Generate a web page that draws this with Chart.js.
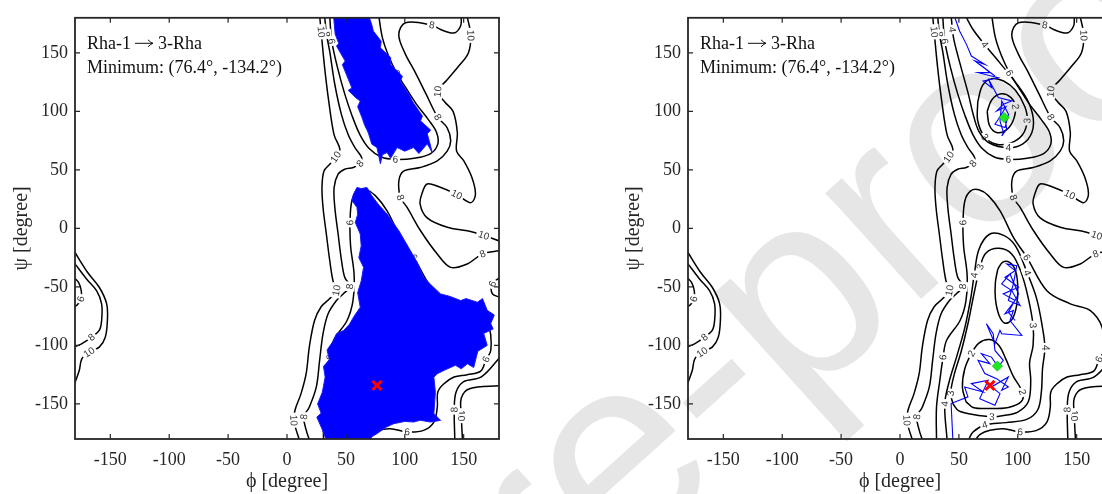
<!DOCTYPE html>
<html>
<head>
<meta charset="utf-8">
<script src="https://cdn.jsdelivr.net/npm/chart.js@4.4.1/dist/chart.umd.min.js"></script>
<style>
  html, body { margin: 0; padding: 0; background: #fff; width: 1102px; height: 494px; overflow: hidden; }
  canvas { position: absolute; top: 0; }
</style>
</head>
<body>
<canvas id="mark" width="1102" height="494" style="left:0"></canvas>
<canvas id="leftMap" width="522" height="494" style="left:0"></canvas>
<canvas id="rightMap" width="522" height="494" style="left:612px"></canvas>
<script>
// Ramachandran-style energy maps (phi / psi in degrees)
const PHI_TICKS = [-150, -100, -50, 0, 50, 100, 150];
const PSI_TICKS = [-150, -100, -50, 0, 50, 100, 150];
const NOTE_LINES = ["Rha-1\u21923-Rha", "Minimum: (76.4\u00b0, -134.2\u00b0)"];
const MINIMUM = [[76.4, -134.2]];
const BASIN_MINIMA = [[88.4, 94.7], [82.7, -117.7]];

// contour polylines, [phi, psi]
const C10_LOBE = [[-181,-19],[-169.4,-37.5],[-159.4,-50.3],[-153.1,-64.5],[-152.5,-78.7],[-154.3,-93],[-159.4,-101.5],[-168,-105.8],[-174.2,-111.5],[-176.4,-121.4],[-181,-134.5]];
const C8_LOBE = [[-181,-29],[-170.2,-43.2],[-161.7,-53.2],[-157.4,-64.5],[-157.4,-78.7],[-159.4,-87.2],[-165.9,-93],[-174.4,-98.7],[-181,-101.5]];
const C6_LOBE = [[-181,-41.8],[-177,-46.1],[-174.7,-53.2],[-175,-60.3],[-177.8,-65.1],[-181,-67.4]];
const C10_WALL = [[27.8,181],[29,168],[32,137],[35.4,109],[40,80],[44.9,67.6],[41.4,61],[36.3,54.8],[31.4,49],[29.7,35],[30.6,17.9],[33.4,-4.8],[36.3,-27.6],[39,-44.6],[42,-53],[36.3,-60],[29,-67],[23.4,-78.7],[19,-101],[16.3,-124],[12,-141],[6.9,-155],[5.7,-164],[7.7,-172],[10.6,-181]];
const C8_WALL = [[32,181],[33.5,166],[36.3,151],[40.6,123],[46.3,97],[52,80],[57.7,69],[63.4,60.5],[62,55.4],[56.3,52],[49,50.6],[43.4,46.3],[40,35],[40.6,18],[43.4,-4.8],[46.3,-27.6],[49,-41.8],[53.4,-49.7],[47.7,-56],[42,-61.6],[34.9,-73],[30.6,-90],[27.7,-112.8],[24.9,-135.5],[19,-152.6],[14.3,-161],[16.3,-172.4],[19.1,-181]];
const C6_TOP = [[36.3,181],[38,160],[43,137],[49,115],[55,97],[62,80],[70,68],[80,61],[92,59],[108,60],[122,64],[128,72],[127,82],[120,93],[110,106],[101,120],[93,133],[86,148],[81,163],[78,181]];
const C6_LOW = [[31,-181],[31,-152.7],[33.8,-130],[36.6,-110],[39.5,-95.8],[51,-78.7],[56,-62],[57,-40],[54,-15],[53.5,5],[55.1,23.6],[60,32],[67,33],[75,28],[85,15],[96.3,-7.7],[107.7,-24.7],[124.7,-53.2],[144.6,-64.5],[161.6,-70.2],[171.6,-84.5],[173,-104.4],[169,-112],[164.5,-122],[153,-125],[141.8,-127],[133,-133],[128,-140],[127.6,-152.7],[124.7,-165.5],[116,-172.6],[102,-174],[87.8,-171.2],[76.4,-172.6],[68,-176],[64,-181]];
const C6_EDGE = [[181,-41.8],[174.4,-47.5],[174.4,-56],[181,-58.9]];
const C8_RIGHT = [[148,181],[147.4,173],[141.8,167],[130.4,170],[123,173.8],[100.6,175.8],[94.9,165.8],[100,150],[108,135],[118,115],[128,95],[136,86],[139,75],[136,66],[127.6,57.7],[113,52],[99,49],[95,40.7],[96.3,26.5],[102,17.9],[113.4,-2],[127.6,-21.9],[139,-33.3],[153,-30.4],[166,-21.9],[181,-19]];
const C10_RIGHT = [[153,181],[156,165],[154,150],[146,139],[136,127],[128,117],[134,108],[141,100],[144.6,82],[144,66],[150,58],[157,43.5],[160,29],[156,22],[144,29],[128,36],[119,38],[115,31],[113,21],[119,9],[136,1],[153,-2],[167,-6],[181,-11]];
const C8_CORNER = [[181,-110],[165,-127],[150,-131],[143.5,-140],[142,-155],[142.5,-181]];
const C10_CORNER = [[181,-134.5],[155,-137],[148,-145],[148,-160],[149,-181]];
const C4_TOP = [[43.5,181],[44.5,170],[46,160],[52,137],[58,115],[62,98],[67,83],[76,73],[92,69],[104,72],[112,82],[113,95],[108,110],[98,125],[86,140],[72,157],[62,170],[56,181]];
const C3_TOP = [[66,108],[70,122],[78,128],[88,126],[98,118],[106,104],[108,92],[104,80],[94,73],[82,72],[72,78],[66,92],[66,108]];
const C2_TOP = [[74,100],[78,110],[86,115],[94,112],[98,104],[96,92],[90,84],[82,82],[76,88],[74,100]];
const C4_LOW = [[40,-181],[38,-150],[42,-130],[48,-110],[55,-85],[60,-60],[63,-40],[67,-18],[76,-5],[88,-6],[98,-15],[108,-38],[116,-60],[121,-85],[123,-102],[121,-120],[120,-140],[117,-155],[108,-163],[90,-166],[72,-168],[62,-174],[58,-181]];
const C3_LOW = [[45,-150],[43,-141],[46,-125],[52,-105],[58,-80],[63,-55],[68,-33],[73,-21],[84,-17],[95,-22],[103,-38],[109,-60],[113,-83],[113,-100],[110,-115],[111,-130],[109,-148],[100,-157],[88,-160],[78,-161],[62,-159],[50,-156],[45,-150]];
const C2_LOW = [[56,-148],[53,-136],[55,-120],[60.6,-107],[67,-98],[76,-95],[84,-100],[90,-112],[96,-126],[104,-140],[103,-148],[92,-153],[75,-154],[62,-153],[56,-148]];
const C2_MID = [[83,-35],[87,-29],[93,-29],[98,-36],[100,-50],[99,-66],[95,-78],[89,-81],[84,-74],[81,-60],[81,-46],[83,-35]];

// level, polyline, indices where the level number is written
const CONTOURS = [
  { level: 10, pts: C10_LOBE, at: [7] },
  { level: 8, pts: C8_LOBE, at: [6] },
  { level: 6, pts: C6_LOBE, at: [3] },
  { level: 10, pts: C10_WALL, at: [1, 6, 14, 22] },
  { level: 8, pts: C8_WALL, at: [1, 8, 17, 25] },
  { level: 6, pts: C6_TOP, at: [1, 8, 16] },
  { level: 6, pts: C6_LOW, at: [3, 9, 16, 22, 31] },
  { level: 6, pts: C6_EDGE, at: [1] },
  { level: 8, pts: C8_RIGHT, at: [4, 10, 18, 24] },
  { level: 10, pts: C10_RIGHT, at: [1, 5, 14, 22] },
  { level: 8, pts: C8_CORNER, at: [4] },
  { level: 10, pts: C10_CORNER, at: [3] },
  { level: 4, pts: C4_TOP, at: [1, 8, 15] },
  { level: 3, pts: C3_TOP, at: [6, 10] },
  { level: 2, pts: C2_TOP, at: [4] },
  { level: 4, pts: C4_LOW, at: [1, 6, 11, 14, 20] },
  { level: 3, pts: C3_LOW, at: [1, 6, 12, 19] },
  { level: 2, pts: C2_LOW, at: [3, 9] },
  { level: 2, pts: C2_MID, at: [] },
];

// sampled conformations, drawn as filled clouds on the left map
const CLOUD_TOP = [[39.5,182],[40.9,166],[44,158],[42,156],[49.4,143],[47,140],[55.1,120],[52,118],[58,112],[62.2,108.8],[60,104],[63.7,94.7],[66,88],[68,84],[69.3,80.8],[72,72],[76.4,69.1],[79.3,55.2],[81,63],[85,64.8],[88,60],[93.5,69.1],[100,66],[107.4,69.1],[112,64],[119.1,72.3],[123.3,64.8],[121,74],[119.1,80.8],[122,84],[113.4,91.9],[115,96],[106.3,108.9],[104,114],[96.3,126],[98,130],[87.8,140.5],[88,146],[79.3,154.4],[80,160],[73.3,168.7],[72,174],[69.3,182],[39.5,182]];
const CLOUD_LOW = [[56.5,29.4],[59.4,35],[63,34],[67.9,35],[72,28],[78,20],[85,12.3],[90,5],[95,-2],[104.8,-19],[110,-28],[116.2,-41.8],[122,-48],[130.4,-56],[138,-58],[147.5,-61.7],[152,-60],[161.7,-63.1],[166,-60],[170,-70],[176,-74],[173,-81.3],[175,-86],[167,-89.8],[170,-100],[162,-105],[158.5,-118.9],[153.2,-115.7],[148,-120],[143,-117],[133.2,-121.4],[128,-124],[124.7,-127.1],[126,-140],[124.7,-158.1],[130.4,-164.1],[121.9,-165.5],[113,-164],[107.6,-165.5],[100,-165],[90.6,-166.9],[84,-170],[76.5,-175.4],[72,-178],[70.7,-182],[33.8,-182],[30,-172],[25.3,-161.3],[29,-158],[26,-150],[30,-140],[32.4,-127.1],[31,-118],[36,-112],[34,-104],[39.5,-95.8],[42,-90],[48,-87.3],[53,-82],[57,-75],[62.2,-67.4],[60,-55],[63,-45],[65,-33.3],[61,-25],[63,-15],[62.2,-4.8],[58,5],[60,12],[59.4,17.9],[55,24],[56.5,29.4]];

// single trajectory on the right map (wraps through psi = +/-180)
const TRAJ_TOP = [[46.3,181],[50.6,168.7],[56.4,157.3],[60.6,147.3],[72,140.2],[63.5,143.1],[80.6,130.3],[67.8,140.2],[76.3,133.1],[66.3,133.1],[83.5,128.8],[70.6,126],[77.8,120.3],[75,128],[83.5,111.8],[94.9,108.9],[87.8,106.1],[82.1,100.4],[90,104],[83.5,93.3],[80.6,89],[89.2,86.2],[92.1,97.6],[86.4,108.9],[84.9,91.9],[87.8,81.9],[86.4,79.1],[90.6,84.8],[89.2,94.7]];
const TRAJ_LOW = [[44.9,-181],[43.4,-149.7],[57.7,-144],[54.9,-135.5],[70.6,-139.8],[60.6,-132.7],[74.9,-129.8],[67.7,-145.5],[80.6,-151.1],[84.9,-141.2],[77.7,-135.5],[92,-127],[86.3,-138.4],[92,-135.5],[82,-128.4],[72,-124.1],[66.3,-112.8],[76.3,-115.6],[69.1,-107.1],[77.7,-110],[83.4,-118.5],[87.7,-112.8],[80.6,-104.3],[79.1,-90],[73.4,-81.5],[80.6,-98.6],[84.9,-87.2],[86.3,-90],[103.4,-91.5],[93.4,-78.7],[96.3,-70.2],[89.1,-73],[97.7,-61.6],[87.7,-56],[100.6,-50.3],[89.1,-41.8],[97.7,-36.1],[90.6,-30.4],[99.1,-31.8],[96.3,-47.4],[92,-61.6],[102,-65.9],[94.9,-53.1],[86.3,-47.4],[93.4,-38.9],[100.6,-56],[92,-71.6],[97.7,-78.7]];

const SERIF = '"Liberation Serif", "Times New Roman", serif';
const AXIS_INK = "#262626";
const TICK_LEN = 5;

const xy = pts => pts.map(([x, y]) => ({ x, y }));

function contourSets(minLevel) {
  return CONTOURS.filter(c => c.level >= minLevel).map(c => ({
    data: xy(c.pts),
    showLine: true,
    borderColor: "#000",
    borderWidth: 1.5,
    pointRadius: 0,
    tension: 0.35,
    order: 5,
    level: c.level,
    labelsAt: c.at,
  }));
}

function minimumMark() {
  return {
    data: xy(MINIMUM), pointStyle: "crossRot", pointRadius: 6.5,
    pointBorderWidth: 3, borderColor: "#ff0000", backgroundColor: "#ff0000", order: 0,
  };
}

// break the contour line under each label and write the level
const contourLabels = {
  id: "contourLabels",
  afterDatasetDraw(chart, args) {
    const ds = chart.data.datasets[args.index];
    if (!ds.labelsAt || !ds.labelsAt.length) return;
    const pts = args.meta.data;
    const { ctx, chartArea: a } = chart;
    ctx.save();
    ctx.beginPath();
    ctx.rect(a.left, a.top, a.right - a.left, a.bottom - a.top);
    ctx.clip();
    ctx.font = '10px "Liberation Sans", Arial, sans-serif';
    ctx.textAlign = "center";
    ctx.textBaseline = "middle";
    for (const k of ds.labelsAt) {
      const p = pts[k];
      const p0 = pts[Math.max(k - 1, 0)];
      const p1 = pts[Math.min(k + 1, pts.length - 1)];
      let ang = Math.atan2(p1.y - p0.y, p1.x - p0.x);
      if (ang > Math.PI / 2) ang -= Math.PI;
      if (ang < -Math.PI / 2) ang += Math.PI;
      const txt = String(ds.level);
      const w = ctx.measureText(txt).width + 4;
      ctx.save();
      ctx.translate(p.x, p.y);
      ctx.rotate(ang);
      ctx.globalCompositeOperation = "destination-out";
      ctx.fillRect(-w / 2, -5, w, 10);
      ctx.globalCompositeOperation = "source-over";
      ctx.fillStyle = "#333";
      ctx.fillText(txt, 0, 0.5);
      ctx.restore();
    }
    ctx.restore();
  },
};

// box with inward ticks on all four sides
const frame = {
  id: "frame",
  afterDatasetsDraw(chart) {
    const { ctx, chartArea: a, scales: { x, y } } = chart;
    ctx.save();
    ctx.strokeStyle = AXIS_INK;
    ctx.lineWidth = 1.2;
    ctx.beginPath();
    for (const v of PHI_TICKS) {
      const px = x.getPixelForValue(v);
      ctx.moveTo(px, a.bottom); ctx.lineTo(px, a.bottom - TICK_LEN);
      ctx.moveTo(px, a.top); ctx.lineTo(px, a.top + TICK_LEN);
    }
    for (const v of PSI_TICKS) {
      const py = y.getPixelForValue(v);
      ctx.moveTo(a.left, py); ctx.lineTo(a.left + TICK_LEN, py);
      ctx.moveTo(a.right, py); ctx.lineTo(a.right - TICK_LEN, py);
    }
    ctx.stroke();
    ctx.lineWidth = 1.8;
    ctx.strokeRect(a.left, a.top, a.right - a.left, a.bottom - a.top);
    ctx.restore();
  },
};

// title block in the upper-left corner; the arrow is a thin TeX-style stroke
const note = {
  id: "note",
  afterDraw(chart) {
    const { ctx, chartArea: a } = chart;
    ctx.save();
    ctx.fillStyle = "#111";
    ctx.strokeStyle = "#111";
    ctx.font = "18px " + SERIF;
    NOTE_LINES.forEach((line, i) => {
      let x = a.left + 12;
      const y = a.top + 31 + i * 24.5;
      line.split(/(\u2192)/).forEach(run => {
        if (run === "\u2192") {
          const x0 = x + 4, x1 = x + 22, ym = y - 5.5;
          ctx.lineWidth = 1;
          ctx.beginPath();
          ctx.moveTo(x0, ym); ctx.lineTo(x1, ym);
          ctx.moveTo(x1 - 5, ym - 3.5); ctx.quadraticCurveTo(x1 - 2, ym - 0.5, x1, ym);
          ctx.quadraticCurveTo(x1 - 2, ym + 0.5, x1 - 5, ym + 3.5);
          ctx.stroke();
          x = x1 + 5;
        } else {
          ctx.fillText(run, x, y);
          x += ctx.measureText(run).width;
        }
      });
    });
    ctx.restore();
  },
};

function makeMap(id, area, datasets) {
  const W = 522, H = 494;
  return new Chart(document.getElementById(id), {
    type: "scatter",
    data: { datasets },
    options: {
      responsive: false,
      animation: false,
      events: [],
      layout: { padding: { left: 0, top: area.top, right: W - area.right, bottom: 0 } },
      plugins: { legend: { display: false }, tooltip: { enabled: false } },
      scales: {
        x: {
          type: "linear", min: -180, max: 180,
          afterBuildTicks: s => { s.ticks = PHI_TICKS.map(v => ({ value: v })); },
          afterFit: s => { s.height = H - area.bottom; },
          grid: { display: false, drawTicks: false },
          border: { display: false },
          ticks: { font: { family: SERIF, size: 18 }, color: AXIS_INK, padding: 10, maxRotation: 0, autoSkip: false },
          title: { display: true, text: "\u03d5 [degree]", font: { family: SERIF, size: 20 }, color: AXIS_INK, padding: { top: 0, bottom: 0 } },
        },
        y: {
          type: "linear", min: -180, max: 180,
          afterBuildTicks: s => { s.ticks = PSI_TICKS.map(v => ({ value: v })); },
          afterFit: s => { s.width = area.left; },
          grid: { display: false, drawTicks: false },
          border: { display: false },
          ticks: { font: { family: SERIF, size: 18 }, color: AXIS_INK, padding: 7, autoSkip: false },
          title: { display: true, text: "\u03c8 [degree]", font: { family: SERIF, size: 20 }, color: AXIS_INK, padding: { top: 10, bottom: 0 } },
        },
      },
    },
    plugins: [contourLabels, frame, note],
  });
}

// faint diagonal stamp behind both maps
function drawStamp() {
  const ctx = document.getElementById("mark").getContext("2d");
  const size = 270;
  ctx.font = size + 'px "Liberation Sans", Arial, sans-serif';
  const lead = ctx.measureText("Journal Pr").width + ctx.measureText("e").width / 2;
  ctx.translate(626, 470);
  ctx.rotate(-42 * Math.PI / 180);
  ctx.fillStyle = "#e6e6e6";
  ctx.fillText("Journal Pre-proof", -lead, size * 0.26);
}

drawStamp();

makeMap("leftMap", { left: 75, right: 499, top: 15.5, bottom: 439 }, [
  minimumMark(),
  { data: xy(CLOUD_TOP), showLine: true, fill: "shape", backgroundColor: "#0000ff", borderColor: "#1a1aff", borderWidth: 1, pointRadius: 0, order: 1 },
  { data: xy(CLOUD_LOW), showLine: true, fill: "shape", backgroundColor: "#0000ff", borderColor: "#1a1aff", borderWidth: 1, pointRadius: 0, order: 1 },
  ...contourSets(6),
]);

makeMap("rightMap", { left: 76, right: 500, top: 15.5, bottom: 439 }, [
  minimumMark(),
  { data: xy(BASIN_MINIMA), pointStyle: "rectRot", pointRadius: 5, backgroundColor: "#22e622", borderColor: "#11cc11", borderWidth: 1, order: 0 },
  { data: xy(TRAJ_TOP), showLine: true, borderColor: "#0000ff", borderWidth: 1.1, pointRadius: 0, order: 1 },
  { data: xy(TRAJ_LOW), showLine: true, borderColor: "#0000ff", borderWidth: 1.1, pointRadius: 0, order: 1 },
  ...contourSets(0),
]);
</script>
</body>
</html>
